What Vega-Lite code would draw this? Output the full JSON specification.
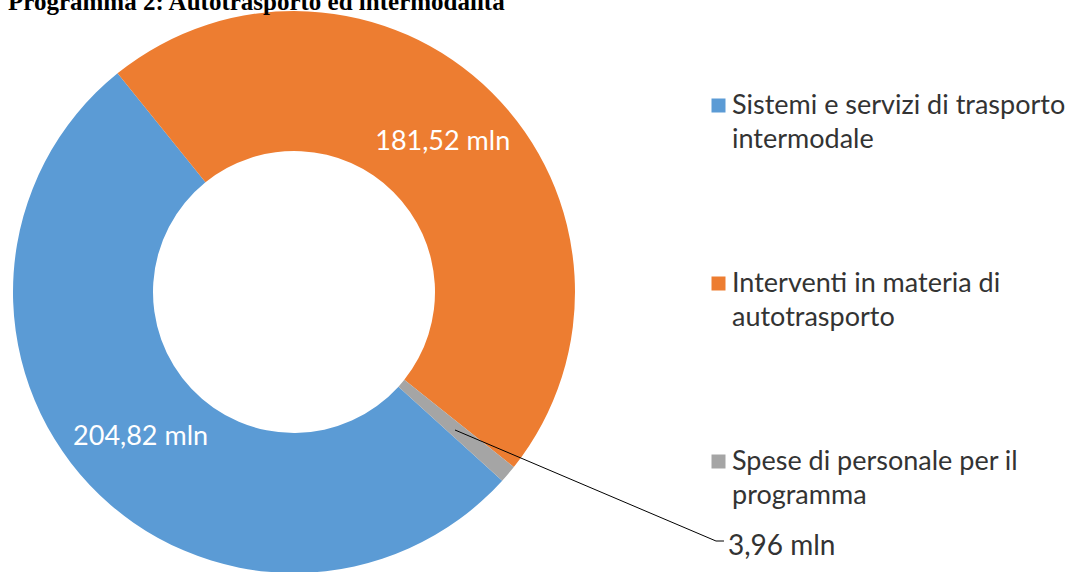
{
  "$schema": "https://vega.github.io/schema/vega-lite/v6.json",
  "width": 588,
  "height": 584,
  "autosize": {"type": "none"},
  "padding": {"left": 0, "top": 0, "right": 489, "bottom": 0},
  "background": "white",
  "title": {
    "text": "Programma 2: Autotrasporto ed intermodalità",
    "anchor": "start",
    "frame": "group",
    "orient": "top",
    "font": "Liberation Serif",
    "fontSize": 25,
    "fontWeight": "bold",
    "color": "black",
    "baseline": "bottom",
    "offset": -40,
    "dx": 8
  },
  "config": {
    "view": {"stroke": null},
    "style": {"guide-label": {"lineHeight": 34, "dy": 8}}
  },
  "datasets": {
    "spesa": [
      {"categoria": "Sistemi e servizi di trasporto intermodale", "mln": 204.82, "etichetta": "204,82 mln", "ordine": 1},
      {"categoria": "Interventi in materia di autotrasporto", "mln": 181.52, "etichetta": "181,52 mln", "ordine": 2},
      {"categoria": "Spese di personale per il programma", "mln": 3.96, "etichetta": "3,96 mln", "ordine": 3}
    ],
    "richiamo": [
      {"x": 0.573, "y": -0.4911, "p": 1},
      {"x": 1.5018, "y": -0.8861, "p": 2},
      {"x": 1.5302, "y": -0.8861, "p": 3}
    ],
    "etichetta_esterna": [
      {"x": 1.5445, "y": -0.9359, "testo": "3,96 mln"}
    ]
  },
  "layer": [
    {
      "data": {"name": "spesa"},
      "mark": {"type": "arc", "outerRadius": 281, "innerRadius": 141},
      "encoding": {
        "theta": {"field": "mln", "type": "quantitative", "stack": true, "scale": {"range": [2.307, 8.5902]}},
        "order": {"field": "ordine", "type": "quantitative"},
        "color": {
          "field": "categoria",
          "type": "nominal",
          "scale": {
            "domain": ["Sistemi e servizi di trasporto intermodale", "Interventi in materia di autotrasporto", "Spese di personale per il programma"],
            "range": ["#5B9BD5", "#ED7D31", "#A5A5A5"]
          },
          "legend": {
            "orient": "none",
            "legendX": 705,
            "legendY": 92,
            "title": null,
            "padding": 0,
            "symbolType": "square",
            "symbolSize": 196,
            "symbolStrokeWidth": 0,
            "labelFont": "Lato",
            "labelFontSize": 27,
            "labelColor": "#333333",
            "labelBaseline": "alphabetic",
            "labelOffset": 0,
            "labelLimit": 400,
            "rowPadding": 116,
            "labelExpr": "datum.label == 'Sistemi e servizi di trasporto intermodale' ? ['Sistemi e servizi di trasporto', 'intermodale'] : datum.label == 'Interventi in materia di autotrasporto' ? ['Interventi in materia di', 'autotrasporto'] : ['Spese di personale per il', 'programma']"
          }
        }
      }
    },
    {
      "data": {"name": "spesa"},
      "mark": {"type": "text", "radius": 211, "font": "Lato", "fontSize": 27, "color": "white"},
      "encoding": {
        "theta": {"field": "mln", "type": "quantitative", "stack": true},
        "order": {"field": "ordine", "type": "quantitative"},
        "text": {"field": "etichetta", "type": "nominal"},
        "opacity": {"condition": {"test": "datum.ordine == 3", "value": 0}, "value": 1}
      }
    },
    {
      "data": {"name": "richiamo"},
      "mark": {"type": "line", "color": "black", "strokeWidth": 1},
      "encoding": {
        "x": {"field": "x", "type": "quantitative", "scale": {"domain": [-1.0463, 1.0463], "nice": false, "zero": false}, "axis": null},
        "y": {"field": "y", "type": "quantitative", "scale": {"domain": [-1.0391, 1.0391], "nice": false, "zero": false}, "axis": null},
        "order": {"field": "p", "type": "quantitative"}
      }
    },
    {
      "data": {"name": "etichetta_esterna"},
      "mark": {"type": "text", "font": "Lato", "fontSize": 28, "color": "#333333", "align": "left", "baseline": "alphabetic"},
      "encoding": {
        "x": {"field": "x", "type": "quantitative"},
        "y": {"field": "y", "type": "quantitative"},
        "text": {"field": "testo", "type": "nominal"}
      }
    }
  ]
}
